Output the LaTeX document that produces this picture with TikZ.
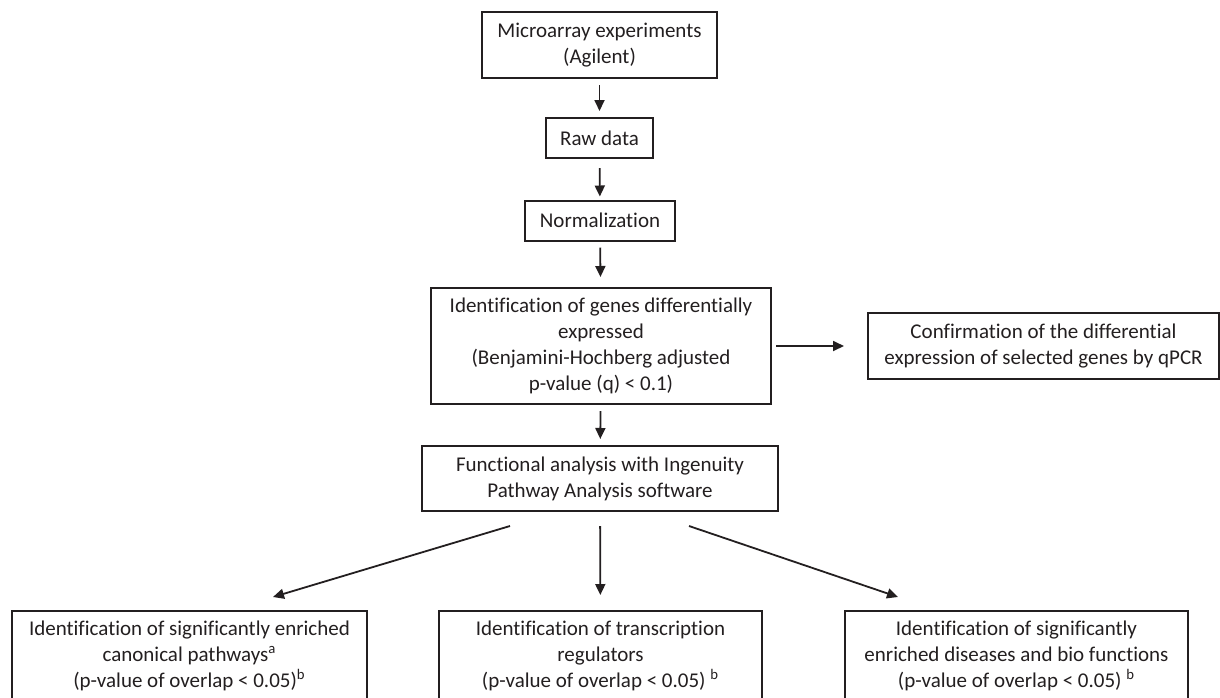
\documentclass[tikz,border=0pt]{standalone}
\usepackage{fontspec}
\setmainfont[Ligatures={NoCommon,NoContextual},Contextuals=NoAlternate,RawFeature={-liga;-clig;-calt}]{Carlito}
\usepackage{xcolor}
\usepackage{tikz}
\usetikzlibrary{arrows.meta}
\definecolor{fcInk}{HTML}{231F20}
\tikzset{
  fc diagram/.style={font=\fontsize{10.5}{13}\selectfont, text=fcInk,
    x=0.5pt, y=-0.5pt},
  fc box/.style={draw=fcInk, fill=white, line width=1pt,
    align=center, inner sep=2pt},
  fc bottom/.style={fc box, anchor=north, minimum height=45pt},
  fc arrow/.style={-{Triangle[length=5.5pt,width=5pt]}, draw=fcInk,
    line width=0.9pt, shorten <=3pt, shorten >=3pt}
}

\begin{document}
\begin{tikzpicture}[fc diagram]
\useasboundingbox (0,0) rectangle (1220,697);
\clip (0,0) rectangle (1220,697);
% main column
\node[fc box, minimum width=117.5pt, minimum height=33pt] (micro) at (599.5,45) {Microarray experiments\\(Agilent)};
\node[fc box, minimum width=53.5pt, minimum height=20pt] (raw) at (599.5,138) {Raw data};
\node[fc box, minimum width=75pt, minimum height=20pt] (norm) at (600,220.5) {Normalization};
\node[fc box, minimum width=170pt, minimum height=58pt] (genes) at (601,346) {Identification of genes differentially\\expressed\\(Benjamini-Hochberg adjusted\\p-value (q) < 0.1)};
\node[fc box, minimum width=175.5pt, minimum height=33pt] (confirm) at (1043.5,346) {Confirmation of the differential\\expression of selected genes by qPCR};
\node[fc box, minimum width=178pt, minimum height=32.5pt] (func) at (600,478.5) {Functional analysis with Ingenuity\\Pathway Analysis software};
% results
\node[fc bottom, minimum width=177.5pt] (canon) at (189.5,610) {Identification of significantly enriched\\canonical pathways\textsuperscript{a}\\(p-value of overlap < 0.05)\textsuperscript{b}};
\node[fc bottom, minimum width=161.5pt] (regul) at (600.5,610) {Identification of transcription\\regulators\\(p-value of overlap < 0.05) \textsuperscript{b}};
\node[fc bottom, minimum width=171.5pt] (disease) at (1016.5,610) {Identification of significantly\\enriched diseases and bio functions\\(p-value of overlap < 0.05) \textsuperscript{b}};

\draw[fc arrow] (micro) -- (raw);
\draw[fc arrow, shorten <=4.5pt, shorten >=1.5pt] (raw) -- (norm);
\draw[fc arrow, shorten >=5pt] (norm) -- (genes);
\draw[fc arrow] (genes) -- (func);
\draw[fc arrow, shorten <=2pt, shorten >=11.5pt] (genes) -- (confirm);
\draw[fc arrow, shorten <=0pt, shorten >=0pt] ([xshift=-45pt,yshift=-7pt]func.south) -- ([xshift=41.75pt,yshift=6.5pt]canon.north);
\draw[fc arrow, shorten <=7pt, shorten >=7.5pt] (func) -- (regul);
\draw[fc arrow, shorten <=0pt, shorten >=0pt] ([xshift=44.5pt,yshift=-7pt]func.south) -- ([xshift=-59.25pt,yshift=6.5pt]disease.north);
\end{tikzpicture}
\end{document}
